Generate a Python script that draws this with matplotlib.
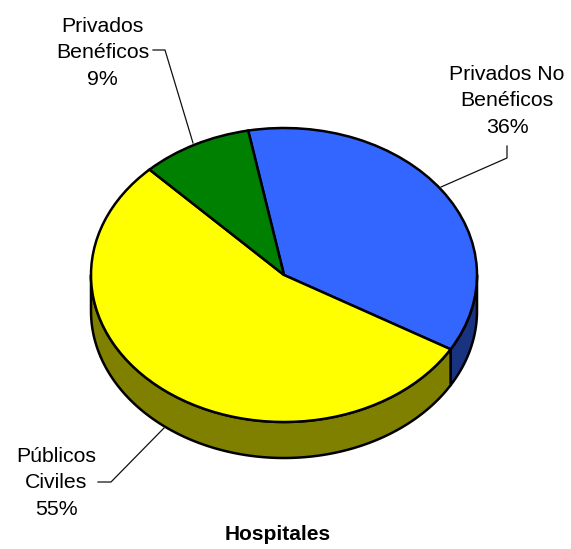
import numpy as np
import matplotlib
matplotlib.use("Agg")
import matplotlib.pyplot as plt

labels = ["Privados No\nBenéficos\n36%", "Públicos\nCiviles\n55%", "Privados\nBenéficos\n9%"]
values = [36.4, 54.3, 9.3]
top_colors = ["#3366FF", "#FFFF00", "#008000"]
side_colors = ["#1A3380", "#808000", "#004000"]
title = "Hospitales"

W, H = 571, 549
CX, CY, RX, RY, DEPTH = 284.0, 275.0, 193.0, 147.0, 36.0
START = 100.7
LW = 1.8

fig = plt.figure(figsize=(W / 100, H / 100), dpi=100, facecolor="white")
ax = fig.add_axes([0, 0, 1, 1])
plt.rcParams["font.family"] = ["Liberation Sans", "DejaVu Sans"]

def px(x, y):
    return (x - CX) / RX, (CY - y) / RY

# side walls: lower half of the rim, per slice
d = DEPTH / RY
fracs = np.array(values) / sum(values)
angles = START - 360 * np.concatenate([[0], np.cumsum(fracs)])
for i, col in enumerate(side_colors):
    a0, a1 = angles[i], angles[i + 1]
    for k in (0, 360, -360):
        lo = max(min(a0, a1) + k, -180)
        hi = min(max(a0, a1) + k, 0)
        if hi <= lo:
            continue
        t = np.radians(np.linspace(lo, hi, 200))
        xs = np.concatenate([np.cos(t), np.cos(t[::-1])])
        ys = np.concatenate([np.sin(t), np.sin(t[::-1]) - d])
        ax.fill(xs, ys, facecolor=col, edgecolor="black", linewidth=LW, joinstyle="round", zorder=1)

wedges, _ = ax.pie(values, colors=top_colors, startangle=START, counterclock=False,
                   radius=1, center=(0, 0),
                   wedgeprops=dict(edgecolor="black", linewidth=LW))
for w in wedges:
    w.set_zorder(2)

ax.set_aspect("auto")
ax.set_xlim((0 - CX) / RX, (W - CX) / RX)
ax.set_ylim((CY - H) / RY, CY / RY)
ax.axis("off")

# leader lines
leaders = [
    [(507, 146), (507, 158), (441, 187)],
    [(153, 50), (165, 50), (193, 143)],
    [(98, 482), (111, 482), (164, 428)],
]
for pts in leaders:
    xy = np.array([px(*p) for p in pts])
    ax.plot(xy[:, 0], xy[:, 1], color="#111111", lw=0.9, zorder=3, clip_on=False)

label_pos = [(507, 101), (56, 483), (102.5, 53)]
for lab, (x, y) in zip(labels, label_pos):
    ax.text(*px(x, y), lab, ha="center", va="center", fontsize=15.3, color="black",
            linespacing=1.52, family=["Liberation Sans", "DejaVu Sans"])

ax.text(*px(278, 534), title, ha="center", va="center", fontsize=15, fontweight="bold",
        color="black", family=["Liberation Sans", "DejaVu Sans"])

fig.savefig("out.png", dpi=100, facecolor="white")
